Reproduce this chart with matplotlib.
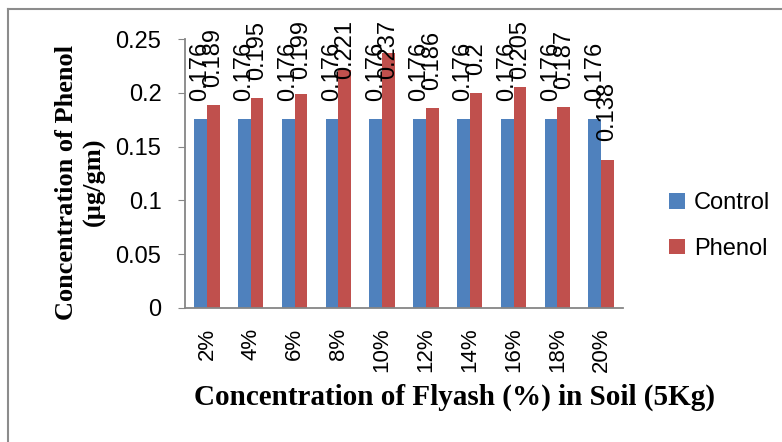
import matplotlib
matplotlib.use("Agg")
import matplotlib.pyplot as plt
from matplotlib.lines import Line2D
import numpy as np

categories = ["2%", "4%", "6%", "8%", "10%", "12%", "14%", "16%", "18%", "20%"]
control = [0.176, 0.176, 0.176, 0.176, 0.176, 0.176, 0.176, 0.176, 0.176, 0.176]
phenol = [0.189, 0.195, 0.199, 0.221, 0.237, 0.186, 0.2, 0.205, 0.187, 0.138]
control_labels = ["0.176"] * 10
phenol_labels = ["0.189", "0.195", "0.199", "0.221", "0.237", "0.186", "0.2", "0.205", "0.187", "0.138"]

plt.rcParams['font.family'] = ['Liberation Sans', 'DejaVu Sans']

fig = plt.figure(figsize=(7.82, 4.42), dpi=100)
ax = fig.add_axes([185/782, 1 - 308/442, (623 - 185)/782, (308 - 39)/442])

x = np.arange(len(categories))
w = 0.29
ax.bar(x - w/2, control, w, color="#4F81BD", label="Control")
ax.bar(x + w/2, phenol, w, color="#C0504D", label="Phenol")

# data labels, rotated like the original
labels = []
for xi, v, s in zip(x, control, control_labels):
    labels.append(ax.annotate(s, (xi - w/2, v), xytext=(0, 13), textcoords="offset points",
                              rotation=90, ha="center", va="bottom", fontsize=17))
for xi, v, s in zip(x, phenol, phenol_labels):
    labels.append(ax.annotate(s, (xi + w/2, v), xytext=(0, 13), textcoords="offset points",
                              rotation=90, ha="center", va="bottom", fontsize=17))

ax.set_xlim(-0.5, len(categories) - 0.5)
ax.set_ylim(0, 0.25)
ax.set_yticks([0, 0.05, 0.1, 0.15, 0.2, 0.25])
ax.set_yticklabels(["0", "0.05", "0.1", "0.15", "0.2", "0.25"], fontsize=17)
ax.set_xticks(x)
ax.set_xticklabels(categories, rotation=90, fontsize=16)
ax.tick_params(axis="x", length=0, pad=14)
ax.tick_params(axis="y", length=5, color="#868686", pad=12)

for sp in ["top", "right"]:
    ax.spines[sp].set_visible(False)
for sp in ["left", "bottom"]:
    ax.spines[sp].set_color("#868686")
    ax.spines[sp].set_linewidth(1.3)

fig.text(80/782, 1 - 182/442, "Concentration of Phenol\n(\u00b5g/gm)", rotation=90,
         ha="center", va="center", fontsize=19, fontweight="bold",
         family="Liberation Serif", linespacing=1.25)
fig.text(455/782, 1 - 397/442, "Concentration of Flyash (%) in Soil (5Kg)",
         ha="center", va="center", fontsize=21, fontweight="bold",
         family="Liberation Serif")

fig.legend(loc="center left", bbox_to_anchor=(648/782, 1 - 226/442), frameon=False,
           fontsize=17, handlelength=0.65, handleheight=0.65, handletextpad=0.4,
           labelspacing=1.0)

# outer chart border (only top and left visible in the crop)
fig.add_artist(Line2D([8/782, 8/782], [0, 1 - 9/442], color="#8c8c8c", lw=1.5))
fig.add_artist(Line2D([8/782, 1], [1 - 9/442, 1 - 9/442], color="#8c8c8c", lw=1.5))

# keep labels inside the chart area, pushing them down like Excel does
fig.canvas.draw()
renderer = fig.canvas.get_renderer()
top_limit = 442 - 20
for t in labels:
    bb = t.get_window_extent(renderer)
    if bb.y1 > top_limit:
        shift = (bb.y1 - top_limit) * 72 / fig.dpi
        t.set_position((0, 13 - shift))

fig.savefig("out.png", dpi=100)
